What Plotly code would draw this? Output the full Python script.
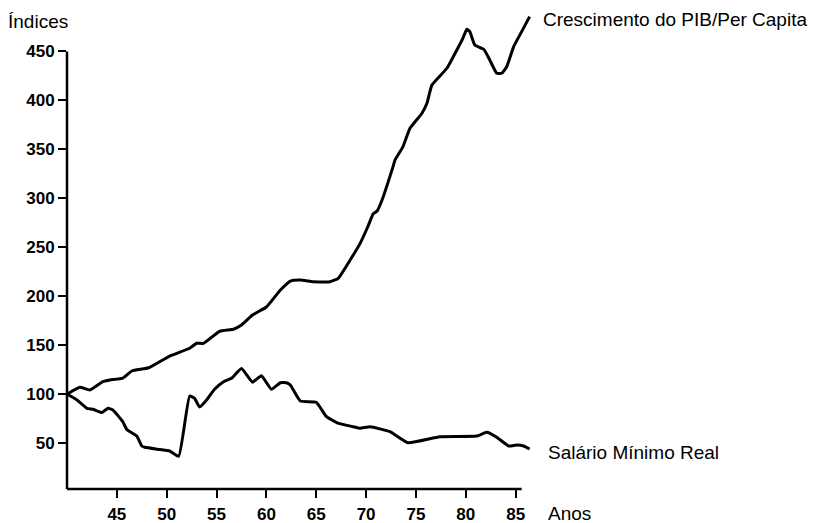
import plotly.graph_objects as go

# Data (year, index)
pib_anos = [40.0, 41.3, 42.3, 43.6, 44.3, 45.6, 46.5, 48.2, 50.3, 52.3, 53.0, 53.7,
            55.3, 56.7, 57.5, 58.6, 60.0, 61.4, 62.4, 63.4, 64.7, 66.4, 67.2, 68.4,
            69.4, 70.2, 70.7, 71.1, 71.6, 72.7, 72.9, 73.7, 74.4, 75.6, 76.1, 76.6,
            78.1, 79.1, 79.7, 80.1, 80.4, 80.9, 81.8, 82.4, 83.1, 83.6, 84.1, 84.8,
            85.6, 86.4]
pib_valores = [100, 106.9, 104.2, 112.7, 114.4, 116.4, 123.6, 126.9, 138.9, 146.8, 151.9, 151.9,
               164.2, 166.3, 170.6, 180.8, 189.0, 206.3, 215.5, 216.5, 214.8, 214.8, 218.3, 237.0,
               254.0, 271.7, 284.0, 287.0, 298.3, 332.3, 339.1, 352.7, 371.5, 386.8, 397.0, 415.7,
               432.8, 451.5, 463.4, 472.6, 470.2, 456.6, 452.2, 441.3, 427.7, 427.7, 434.4, 454.9,
               470.2, 485.5]

sal_anos = [40.0, 41.0, 42.0, 42.6, 43.5, 44.1, 44.6, 45.6, 46.0, 47.0, 47.5, 47.8,
            49.3, 50.3, 51.2, 52.3, 52.8, 53.3, 54.0, 54.8, 55.7, 56.5, 57.5, 58.6,
            59.5, 60.5, 61.4, 62.0, 62.4, 63.4, 65.0, 66.0, 67.1, 68.7, 69.4, 70.4,
            72.4, 74.2, 77.4, 81.1, 82.1, 83.1, 84.3, 85.1, 85.8, 86.4]
sal_valores = [100, 94.0, 85.5, 84.5, 81.2, 85.5, 83.8, 71.8, 63.8, 57.2, 47.0, 45.7,
               43.4, 41.9, 36.5, 98.1, 95.7, 86.8, 94.0, 104.9, 112.7, 116.1, 126.1, 112.2,
               118.7, 104.9, 111.6, 111.6, 109.3, 93.0, 91.7, 77.3, 70.7, 66.7, 65.1, 66.7,
               61.6, 50.4, 56.5, 57.2, 61.0, 55.9, 47.0, 48.0, 47.0, 43.9]

x_ticks = [45, 50, 55, 60, 65, 70, 75, 80, 85]
x_ticklabels = ["45", "50", "55", "60", "65", "70", "75", "80", "85"]
y_ticks = [50, 100, 150, 200, 250, 300, 350, 400, 450]

X_MIN, X_AXIS_END, X_MAX = 40, 85.6, 87.44
Y_MIN, Y_AXIS_END, Y_MAX = 3.1, 450, 492.3

FONT = "Liberation Sans"

fig = go.Figure()
line_style = dict(color="black", width=3, shape="spline", smoothing=0.4)
fig.add_trace(go.Scatter(x=pib_anos, y=pib_valores, mode="lines", line=line_style,
                         showlegend=False, hoverinfo="skip"))
fig.add_trace(go.Scatter(x=sal_anos, y=sal_valores, mode="lines", line=line_style,
                         showlegend=False, hoverinfo="skip"))

# axis lines (they stop at 450 and at 85 as in the original)
fig.add_shape(type="line", xref="paper", yref="y", x0=0, x1=0, y0=Y_MIN, y1=Y_AXIS_END,
              line=dict(color="black", width=2.5))
fig.add_shape(type="line", xref="x", yref="paper", x0=X_MIN, x1=X_AXIS_END, y0=0, y1=0,
              line=dict(color="black", width=2.5))

tickfont = dict(family=FONT, size=17, color="black", weight="bold")
fig.update_xaxes(range=[X_MIN, X_MAX], tickvals=x_ticks, ticktext=x_ticklabels,
                 ticks="outside", ticklen=8, tickwidth=2, tickcolor="black",
                 ticklabelstandoff=2, automargin=False,
                 showgrid=False, zeroline=False, showline=False, tickfont=tickfont)
fig.update_yaxes(range=[Y_MIN, Y_MAX], tickvals=y_ticks,
                 ticks="outside", ticklen=8, tickwidth=2, tickcolor="black",
                 ticklabelstandoff=0, automargin=False,
                 showgrid=False, zeroline=False, showline=False, tickfont=tickfont)

textfont = dict(family=FONT, size=19, color="black")
annots = [
    ("Índices", -0.129, 0.977),
    ("Crescimento do PIB/Per Capita", 1.002, 0.981),
    ("Salário Mínimo Real", 1.0127, 0.0772),
    ("Anos", 1.012, -0.052),
]
for txt, ax, ay in annots:
    fig.add_annotation(text=txt, x=ax, y=ay, xref="paper", yref="paper",
                       xanchor="left", yanchor="middle", showarrow=False, font=textfont)

# page body has an 8px margin: figure is 814x515 so it fills the 822x523 window
fig.update_layout(width=814, height=515, margin=dict(l=59, r=282, t=2, b=34),
                  plot_bgcolor="white", paper_bgcolor="white")

fig.write_html("out.html")
